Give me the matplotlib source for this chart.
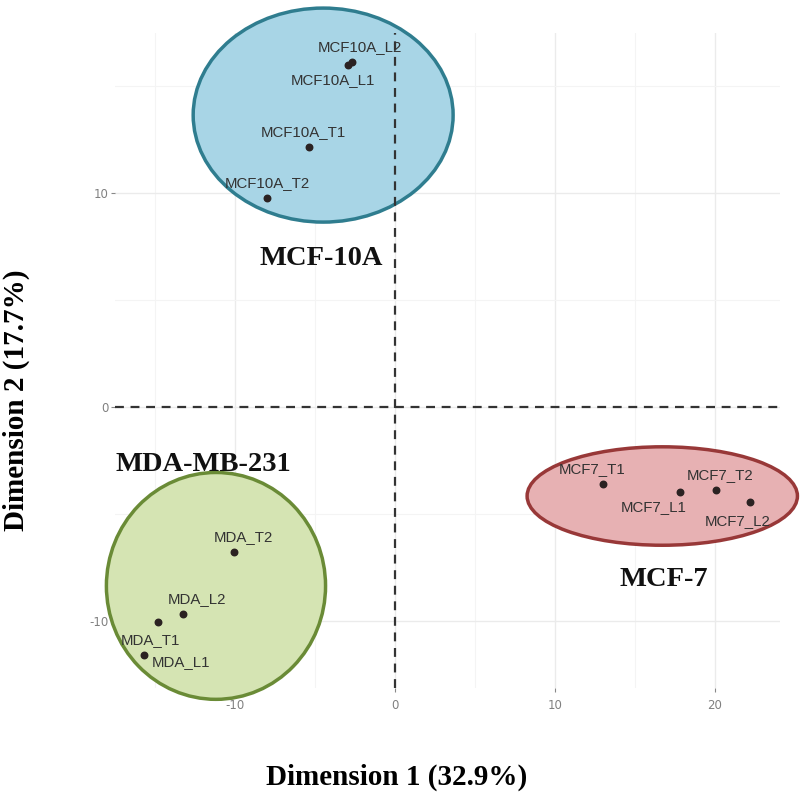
import matplotlib
matplotlib.use("Agg")
import matplotlib.pyplot as plt
from matplotlib.patches import Ellipse

plt.rcParams["axes.unicode_minus"] = False

# sample coordinates (Dimension 1, Dimension 2)
mcf10a_names = ["MCF10A_L2", "MCF10A_L1", "MCF10A_T1", "MCF10A_T2"]
mcf10a_x = [-2.7, -2.95, -5.4, -8.0]
mcf10a_y = [16.1, 16.0, 12.15, 9.77]

mda_names = ["MDA_T2", "MDA_L2", "MDA_T1", "MDA_L1"]
mda_x = [-10.1, -13.25, -14.8, -15.7]
mda_y = [-6.78, -9.67, -10.05, -11.6]

mcf7_names = ["MCF7_T1", "MCF7_L1", "MCF7_T2", "MCF7_L2"]
mcf7_x = [13.0, 17.8, 20.06, 22.2]
mcf7_y = [-3.6, -3.97, -3.88, -4.44]

# label offsets in points (dx, dy)
mcf10a_off = [(6, 11), (-11, -11), (-4, 11), (0, 11)]
mda_off = [(7, 11), (10, 11), (-6, -13), (27, -5)]
mcf7_off = [(-8, 11), (-19, -11), (3, 11), (-9, -14)]

# group ellipses: centre x, centre y, width, height
groups = ["MCF-10A", "MDA-MB-231", "MCF-7"]
ell_cx = [-4.5, -11.2, 16.7]
ell_cy = [13.64, -8.36, -4.16]
ell_w = [16.25, 13.7, 16.9]
ell_h = [10.0, 10.6, 4.6]
ell_fill = ["#a8d5e6", "#d5e4b3", "#e7b1b3"]
ell_edge = ["#2f7d8f", "#6a8b36", "#983838"]
group_lx = [-4.6, -12.0, 16.8]
group_ly = [6.96, -2.7, -8.08]

fig = plt.figure(figsize=(8, 7.95), dpi=100)
ax = fig.add_axes([0.144, 0.1346, 0.831, 0.824])

for i in range(3):
    e = Ellipse((ell_cx[i], ell_cy[i]), ell_w[i], ell_h[i],
                facecolor=ell_fill[i], edgecolor=ell_edge[i], linewidth=2.5,
                zorder=3, clip_on=False)
    ax.add_patch(e)

ax.axhline(0, color="#333333", linestyle=(0, (4, 3)), linewidth=1.6, zorder=4)
ax.axvline(0, color="#333333", linestyle=(0, (4, 3)), linewidth=1.6, zorder=4)

for xs, ys, names, offs in [(mcf10a_x, mcf10a_y, mcf10a_names, mcf10a_off),
                            (mda_x, mda_y, mda_names, mda_off),
                            (mcf7_x, mcf7_y, mcf7_names, mcf7_off)]:
    ax.scatter(xs, ys, s=22, color="#2b2222", zorder=5)
    for x, y, n, o in zip(xs, ys, names, offs):
        ax.annotate(n, (x, y), xytext=o, textcoords="offset points",
                    ha="center", va="center", fontsize=10.8,
                    family="Liberation Sans", color="#333333", zorder=6)

for i in range(3):
    ax.text(group_lx[i], group_ly[i], groups[i], ha="center", va="center",
            fontsize=20.5, fontweight="bold", family="Liberation Serif",
            color="#111111", zorder=6)

ax.set_xlim(-17.5, 24.06)
ax.set_ylim(-13.13, 17.48)
ax.set_xticks([-10, 0, 10, 20])
ax.set_yticks([-10, 0, 10])
ax.set_xticks([-15, -5, 5, 15], minor=True)
ax.set_yticks([-5, 5, 15], minor=True)
ax.grid(which="major", color="#ebebeb", linewidth=1.0)
ax.grid(which="minor", color="#f4f4f4", linewidth=0.8)
ax.set_axisbelow(True)
for s in ax.spines.values():
    s.set_visible(False)
ax.tick_params(which="major", length=3, color="#888888", labelcolor="#808080",
               labelsize=8.5, pad=2)
ax.tick_params(axis="x", which="major", pad=5)
ax.tick_params(which="minor", length=0)

fig.text(0.496, 0.022, "Dimension 1 (32.9%)", ha="center", va="center",
         fontsize=21, fontweight="bold", family="Liberation Serif")
fig.text(0.02, 0.496, "Dimension 2 (17.7%)", ha="center", va="center",
         rotation=90, fontsize=21, fontweight="bold", family="Liberation Serif")

fig.savefig("out.png", dpi=100)
